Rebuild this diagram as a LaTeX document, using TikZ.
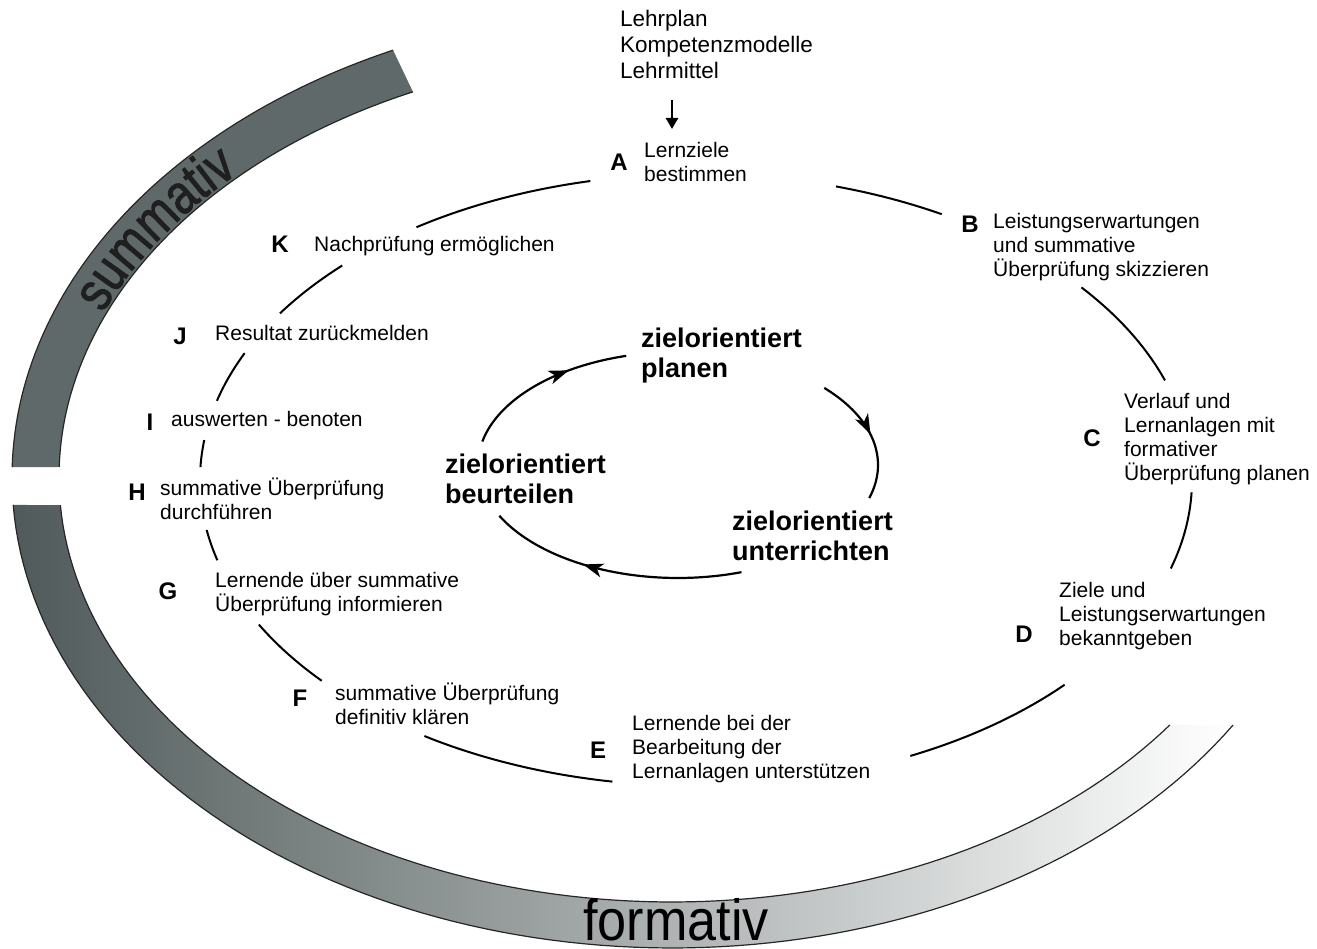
\documentclass[tikz,border=0pt]{standalone}
\usepackage{fontspec}
\setmainfont{Liberation Sans}
\newfontfamily\condfont[FakeStretch=0.82,FakeBold=1.5]{Liberation Sans}
\usetikzlibrary{arrows.meta,decorations.markings,decorations.text}
\newcommand\mystrut{\rule{0pt}{20pt}}
\newcommand\mybigstrut{\rule{0pt}{25pt}}
\definecolor{sumgray}{RGB}{95,105,105}
\definecolor{formdark}{RGB}{80,90,90}
\definecolor{formmid}{RGB}{170,175,175}
\definecolor{formlight}{RGB}{255,255,255}
\begin{document}
\begin{tikzpicture}[x=1pt,y=-1pt,
  lbl/.style={anchor=north west, inner sep=0pt, align=left, font=\fontsize{21}{24}\selectfont},
  toplbl/.style={anchor=north west, inner sep=0pt, align=left, font=\fontsize{22.5}{26}\selectfont},
  ltr/.style={inner sep=0pt, font=\fontsize{24}{24}\selectfont\bfseries},
  big/.style={anchor=north west, inner sep=0pt, align=left, font=\fontsize{27}{30}\selectfont\bfseries},
  cyc/.style={line width=2pt},
  inarc/.style={line width=2.2pt},
  edge/.style={line width=1.2pt, black!85},
  tipmark/.style={decoration={markings, mark=at position #1 with {\arrow{Stealth[length=20pt,width=14pt,inset=5.5pt]}}}, postaction={decorate}}]

\useasboundingbox (0,0) rectangle (1317,949);

% ---- summativ band ----
\fill[sumgray] plot[domain=181.2:245,samples=60,variable=\t] ({672+660*cos(\t)},{477+471*sin(\t)})
  -- plot[domain=245:181.35,samples=60,variable=\t] ({672+613*cos(\t)},{477+425*sin(\t)}) -- cycle;
\draw[edge] plot[domain=181.2:245,samples=60,variable=\t] ({672+660*cos(\t)},{477+471*sin(\t)});
\draw[edge] plot[domain=181.35:245,samples=60,variable=\t] ({672+613*cos(\t)},{477+425*sin(\t)});
\path[decorate, decoration={text along path, text format delimiters={|}{|},
   text={|\condfont\fontsize{56}{56}\selectfont\color{black!88}|summativ}, text align=left}]
   plot[domain=202.5:242,samples=80,variable=\t] ({672+616*cos(\t)},{477+428*sin(\t)});

% ---- formativ band ----
\shade[left color=formdark, middle color=formmid, right color=formlight]
  plot[domain=176.6:31.77,samples=100,variable=\t] ({672+660*cos(\t)},{477+471*sin(\t)})
  -- plot[domain=35.7:176.2,samples=100,variable=\t] ({672+613*cos(\t)},{477+425*sin(\t)}) -- cycle;
\draw[edge] plot[domain=176.6:31.77,samples=100,variable=\t] ({672+660*cos(\t)},{477+471*sin(\t)});
\draw[edge] plot[domain=35.7:176.2,samples=100,variable=\t] ({672+613*cos(\t)},{477+425*sin(\t)});
\node[font=\fontsize{58}{58}\selectfont, xscale=.9, anchor=base, inner sep=0pt] (form) at (676,940) {formativ};

% ---- top sources ----
\node[toplbl] (src) at (620,6) {\mystrut Lehrplan\\Kompetenzmodelle\\Lehrmittel};
\coordinate (arrS) at (672,100);
\coordinate (arrE) at (672,129);
\draw[line width=2.4pt, -{Triangle[length=11pt,width=12pt]}] (arrS) -- (arrE);

% ---- step letters ----
\node[ltr] (lA) at (619,162) {A};
\node[ltr] (lB) at (970,224) {B};
\node[ltr] (lC) at (1092,438) {C};
\node[ltr] (lD) at (1024,634) {D};
\node[ltr] (lE) at (598,750) {E};
\node[ltr] (lF) at (300,698) {F};
\node[ltr] (lG) at (168,591) {G};
\node[ltr] (lH) at (137,492) {H};
\node[ltr] (lI) at (150,422) {I};
\node[ltr] (lJ) at (180,336) {J};
\node[ltr] (lK) at (280,244) {K};

% ---- step texts ----
\node[lbl] (tA) at (644,137) {\mystrut Lernziele\\bestimmen};
\node[lbl] (tB) at (993,208) {\mystrut Leistungserwartungen\\und summative\\Überprüfung skizzieren};
\node[lbl] (tC) at (1124,388) {\mystrut Verlauf und\\Lernanlagen mit\\formativer\\Überprüfung planen};
\node[lbl] (tD) at (1059,577) {\mystrut Ziele und\\Leistungserwartungen\\bekanntgeben};
\node[lbl] (tE) at (632,710) {\mystrut Lernende bei der\\Bearbeitung der\\Lernanlagen unterstützen};
\node[lbl] (tF) at (335,680) {\mystrut summative Überprüfung\\definitiv klären};
\node[lbl] (tG) at (215,567) {\mystrut Lernende über summative\\Überprüfung informieren};
\node[lbl] (tH) at (160,475) {\mystrut summative Überprüfung\\durchführen};
\node[lbl] (tI) at (171,406) {\mystrut auswerten - benoten};
\node[lbl] (tJ) at (215,320) {\mystrut Resultat zurückmelden};
\node[lbl] (tK) at (314,231) {\mystrut Nachprüfung ermöglichen};

% ---- outer cycle arcs ----
\foreach \a/\b in {235.7/257.7, 286.4/299.7, 321/341, 362.3/376.8, 42/64.4, 99.7/123.2, 139/151.8, 164.8/170.6, 182.4/187.5, 195/204.5, 213/224.5}
  \draw[cyc] plot[domain=\a:\b,samples=40,variable=\t] ({696+496*cos(\t)},{480+306*sin(\t)});

% ---- inner cycle ----
\node[big] (zp) at (641,322) {\mybigstrut zielorientiert\\planen};
\node[big] (zb) at (445,448) {\mybigstrut zielorientiert\\beurteilen};
\node[big] (zu) at (732,505) {\mybigstrut zielorientiert\\unterrichten};

\draw[inarc, tipmark=.66] plot[domain=192:255,samples=50,variable=\t] ({678+200*cos(\t)},{465+113*sin(\t)});
\draw[inarc, tipmark=.5] plot[domain=317:377,samples=50,variable=\t] ({678+200*cos(\t)},{465+113*sin(\t)});
\draw[inarc, tipmark=.62] plot[domain=71.5:153.3,samples=50,variable=\t] ({678+200*cos(\t)},{465+113*sin(\t)});
\end{tikzpicture}
\end{document}
